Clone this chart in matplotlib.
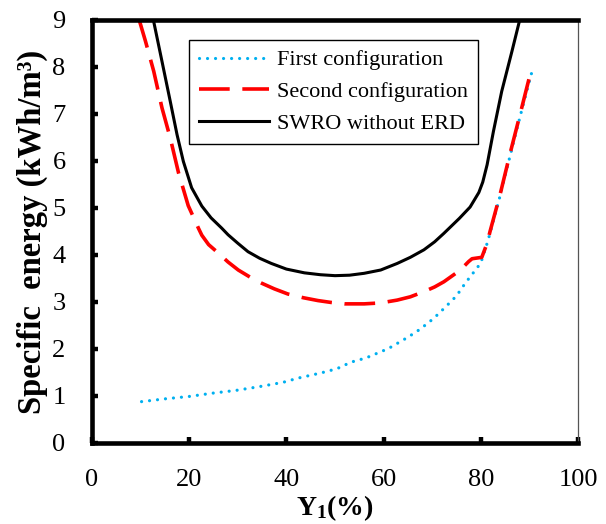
import matplotlib
matplotlib.use("Agg")
import matplotlib.pyplot as plt

plt.rcParams['font.family'] = ['Liberation Serif', 'DejaVu Serif']
plt.rcParams['mathtext.fontset'] = 'custom'
plt.rcParams['mathtext.rm'] = 'Liberation Serif'
plt.rcParams['mathtext.bf'] = 'Liberation Serif:bold'
plt.rcParams['mathtext.it'] = 'Liberation Serif:italic'

# Data
first_x = [10.2, 15.1, 20, 24.8, 29.7, 34.5, 39.3, 42.4, 47.1, 50.4, 53.3, 56.4, 61, 65, 67.5,
           70.3, 72.7, 75, 76.8, 78.9, 80, 81.4, 82, 84, 86, 88.4, 90.5]
first_y = [0.88, 0.94, 0.99, 1.06, 1.12, 1.2, 1.29, 1.38, 1.49, 1.58, 1.72, 1.81, 2.01, 2.25, 2.42,
           2.65, 2.89, 3.13, 3.4, 3.68, 3.83, 4.28, 4.5, 5.27, 6.1, 7.07, 7.89]

second_x = [9.6, 11, 12.7, 14.4, 16.1, 17.8, 19.8, 21.9, 22.6, 24, 26, 28, 30.1, 32.5, 34.9, 37.5,
            40.3, 43.5, 46.5, 49.2, 52, 56, 59.4, 62.8, 65.5, 68.3, 70.5, 72.4, 75.8, 77.5, 78.2,
            80.2, 81.3, 81.9, 84, 86, 88.1, 90]
second_y = [9.04, 8.55, 7.91, 7.13, 6.49, 5.75, 5.05, 4.57, 4.42, 4.22, 4.04, 3.85, 3.68, 3.53, 3.4, 3.28,
            3.17, 3.09, 3.03, 2.99, 2.96, 2.96, 2.98, 3.04, 3.11, 3.22, 3.32, 3.43, 3.68, 3.86, 3.92,
            3.95, 4.25, 4.5, 5.3, 6.15, 7.0, 7.78]

swro_x = [12.55, 14.4, 16.1, 17.5, 18.8, 20.5, 22.6, 24.5, 26.7, 28, 30, 32.1, 34.5, 36.9, 40,
          43.7, 47, 50, 53, 56, 59.4, 62.8, 65.5, 68.3, 70.5, 72.4, 75.6, 77.8, 79.6, 80.4,
          81.3, 82.6, 84.3, 86.4, 88.1]
swro_y = [9.04, 8.12, 7.27, 6.56, 5.99, 5.43, 5.04, 4.79, 4.57, 4.43, 4.25, 4.07, 3.93, 3.82, 3.7,
          3.62, 3.58, 3.56, 3.57, 3.61, 3.68, 3.82, 3.95, 4.11, 4.28, 4.46, 4.78, 5.02, 5.33, 5.55,
          5.92, 6.63, 7.48, 8.33, 9.04]

x_ticks = [0, 20, 40, 60, 80, 100]
y_ticks = [0, 1, 2, 3, 4, 5, 6, 7, 8, 9]

fig = plt.figure(figsize=(6.06, 5.24), dpi=100)
ax = fig.add_axes([0.1518, 0.1546, 0.802, 0.8073])

ax.plot(first_x, first_y, color='#00B0F0', lw=2.3, linestyle=(0, (0.01, 2.5)),
        dash_capstyle='round', label='First configuration')
ax.plot(second_x, second_y, color='#FF0000', lw=2.6, linestyle=(0, (8.5, 3.5)),
        solid_joinstyle='round', label='Second configuration')
ax.plot(swro_x, swro_y, color='black', lw=2.2, solid_joinstyle='round',
        label='SWRO without ERD')

ax.set_xlim(0, 100)
ax.set_ylim(0, 9)
ax.set_xticks(x_ticks)
ax.set_yticks(y_ticks)
ax.tick_params(axis='both', direction='in', length=4, width=3.2, labelsize=19, pad=19)
ax.tick_params(top=False, right=False)

for s in ['left', 'bottom', 'top']:
    ax.spines[s].set_linewidth(3.3)
ax.spines['right'].set_linewidth(0.9)
ax.spines['right'].set_color('#555555')

ax.set_xlabel(r'$\mathbf{Y_1}$(%)', fontsize=20, fontweight='bold', labelpad=1)
ax.set_ylabel('Specific  energy (kWh/m³)', fontsize=23.5, fontweight='bold', labelpad=3)

leg = ax.legend(loc='upper left', bbox_to_anchor=(0.200, 0.953), fontsize=16,
                frameon=True, fancybox=False, edgecolor='black', framealpha=1,
                handlelength=3.15, borderpad=0.45, labelspacing=0.5, handletextpad=0.35,
                borderaxespad=0)
leg.get_frame().set_linewidth(1.0)

fig.savefig('out.png', dpi=100)
